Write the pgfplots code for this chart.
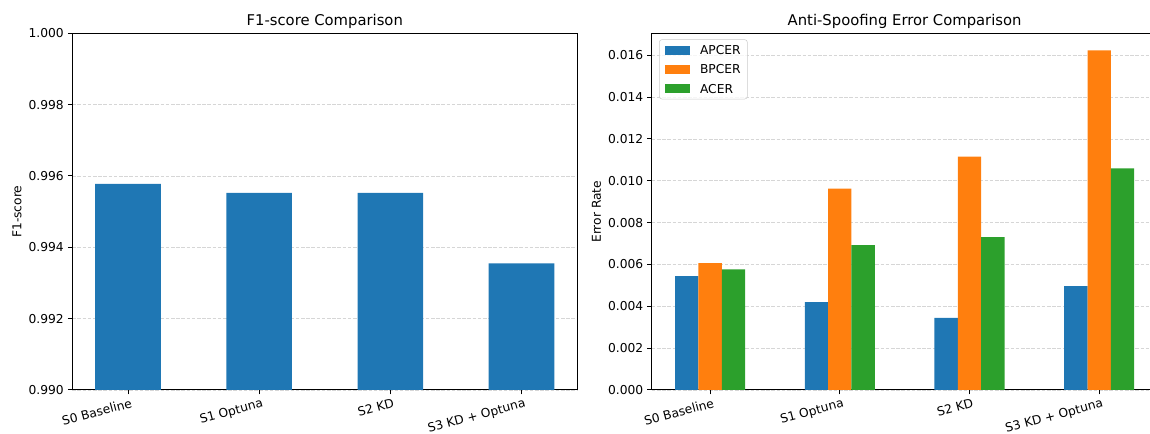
\documentclass[border=0pt]{standalone}
\usepackage{pgfplots}
\pgfplotsset{compat=1.18}
\usepackage{fontspec}
\setmainfont{DejaVu Sans}
\definecolor{c0}{HTML}{1F77B4}
\definecolor{c1}{HTML}{FF7F0E}
\definecolor{c2}{HTML}{2CA02C}
\newcommand\tf{\fontsize{9.2}{11}\selectfont}
\newcommand\ttlf{\fontsize{11.1}{13}\selectfont}
\pgfplotsset{
  common/.style={
    scale only axis,
    height=267.5pt,
    axis line style={black, line width=0.75pt},
    tick align=outside, tick pos=left,
    major tick length=3.2pt,
    every tick/.style={black, line width=0.75pt},
    ymajorgrids,
    grid style={dash pattern=on 2.7pt off 1.2pt, color=black!16, line width=0.6pt},
    xtick={0,1,2,3},
    xticklabels={S0 Baseline, S1 Optuna, S2 KD, S3 KD + Optuna},
    xticklabel style={rotate=15, anchor=north east, inner sep=0pt, font=\tf, yshift=-3pt, xshift=1pt},
    yticklabel style={inner sep=0pt, font=\tf, xshift=-3pt, /pgf/number format/.cd, fixed, fixed zerofill, precision=3},
    /pgf/number format/assume math mode=true,
    scaled y ticks=false,
    title style={at={(0.5,1)}, anchor=base, yshift=-0.3pt, inner sep=0pt, font=\ttlf},
    every axis y label/.style={at={(axis description cs:0,0.5)}, rotate=90, anchor=center, yshift=41.5pt, font=\tf},
    ybar,
  }
}
\begin{document}
\begin{tikzpicture}
\useasboundingbox (0,0) rectangle (862.5pt,325.5pt);
\clip (0,0) rectangle (862.5pt,325.5pt);
% Left: F1-score
\begin{axis}[common,
  at={(54.2pt,33pt)}, anchor=south west,
  width=378.75pt,
  xmin=-0.425, xmax=3.425,
  ymin=0.990, ymax=1.000,
  ytick={0.990,0.992,0.994,0.996,0.998,1.000},
  title={F1-score Comparison},
  ylabel={F1-score},
  bar width=0.5,
]
\addplot[fill=c0, draw=none, bar shift=0] coordinates {(0,0.99578) (1,0.99553) (2,0.99553) (3,0.99355)};
\end{axis}
% Right: error rates
\begin{axis}[common,
  at={(488.8pt,33pt)}, anchor=south west,
  width=379.35pt,
  xmin=-0.45, xmax=3.45,
  ymin=0, ymax=0.01705,
  ytick={0,0.002,0.004,0.006,0.008,0.010,0.012,0.014,0.016},
  title={Anti-Spoofing Error Comparison},
  ylabel={Error Rate},
  bar width=0.18,
  legend style={at={(0,1)}, anchor=north west, xshift=5.5pt, yshift=-4.5pt,
    draw=black!20, rounded corners=2pt, fill=white, fill opacity=0.8, text opacity=1,
    font=\tf, inner xsep=4pt, inner ysep=3.5pt, row sep=5.6pt,
    nodes={text height=6.8pt, text depth=0pt, inner sep=1pt},
    /tikz/every odd column/.append style={column sep=6.5pt}},
  legend cell align=left,
]
\addplot[fill=c0, draw=none, bar shift=-0.18, legend image code/.code={\fill[c0, sharp corners, fill opacity=1] (0pt,-3.4pt) rectangle (19pt,3.4pt);}]
  coordinates {(0,0.00544) (1,0.00420) (2,0.00345) (3,0.00497)};
\addplot[fill=c1, draw=none, bar shift=0, legend image code/.code={\fill[c1, sharp corners, fill opacity=1] (0pt,-3.4pt) rectangle (19pt,3.4pt);}]
  coordinates {(0,0.00607) (1,0.00963) (2,0.01116) (3,0.01624)};
\addplot[fill=c2, draw=none, bar shift=0.18, legend image code/.code={\fill[c2, sharp corners, fill opacity=1] (0pt,-3.4pt) rectangle (19pt,3.4pt);}]
  coordinates {(0,0.00576) (1,0.00692) (2,0.00731) (3,0.01059)};
\legend{APCER,BPCER,ACER}
\end{axis}
\end{tikzpicture}
\end{document}
